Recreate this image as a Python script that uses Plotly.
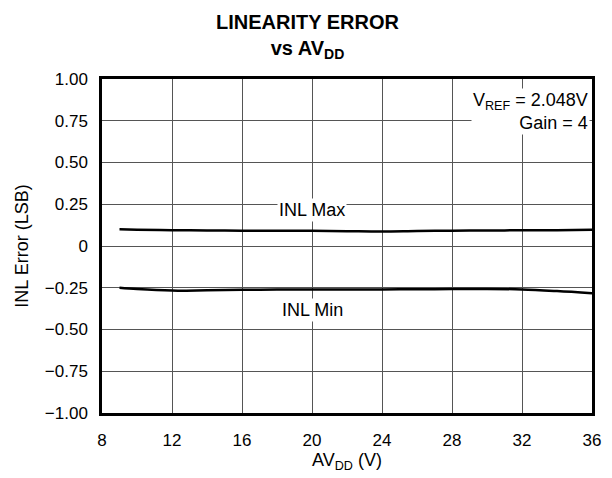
import plotly.graph_objects as go

avdd = [9, 10, 12, 14, 16, 18, 20, 22, 24, 26, 28, 30, 32, 34, 36]
inl_max = [0.100, 0.098, 0.095, 0.093, 0.092, 0.092, 0.091, 0.089, 0.087, 0.090, 0.092, 0.093, 0.094, 0.095, 0.097]
inl_min = [-0.250, -0.258, -0.267, -0.265, -0.262, -0.261, -0.261, -0.261, -0.260, -0.259, -0.258, -0.257, -0.260, -0.270, -0.283]

xticks = [8, 12, 16, 20, 24, 28, 32, 36]
yticks = [1.0, 0.75, 0.5, 0.25, 0, -0.25, -0.5, -0.75, -1.0]
ytext = ["1.00", "0.75", "0.50", "0.25", "0", "\u22120.25", "\u22120.50", "\u22120.75", "\u22121.00"]

font = "Liberation Sans, Arial, sans-serif"

fig = go.Figure()
fig.add_trace(go.Scatter(x=avdd, y=inl_max, mode="lines", line=dict(color="black", width=2.5, shape="spline"), showlegend=False))
fig.add_trace(go.Scatter(x=avdd, y=inl_min, mode="lines", line=dict(color="black", width=2.5, shape="spline"), showlegend=False))

fig.update_layout(
    width=604, height=470,
    margin=dict(l=94, r=20, t=71, b=65),
    paper_bgcolor="white", plot_bgcolor="white",
    font=dict(family=font, size=17, color="black"),
    xaxis=dict(range=[8, 36], tickvals=xticks, showgrid=True, gridcolor="#555", gridwidth=1,
               showline=True, linecolor="black", linewidth=2.5, mirror=True, ticks="outside",
               ticklen=10, tickcolor="rgba(0,0,0,0)",
               zeroline=False, title=dict(text="AV<sub>DD</sub> (V)", standoff=2, font=dict(size=18)),
               tickfont=dict(size=17)),
    yaxis=dict(range=[-1, 1], tickvals=yticks, ticktext=ytext, showgrid=True, gridcolor="#555", gridwidth=1,
               showline=True, linecolor="black", linewidth=2.5, mirror=True, ticks="outside",
               ticklen=8, tickcolor="rgba(0,0,0,0)",
               zeroline=False, title=dict(text="INL Error (LSB)", standoff=12, font=dict(size=18)),
               tickfont=dict(size=17)),
)

fig.add_annotation(xref="paper", yref="paper", x=0.42, y=1.128, yanchor="middle",
                   text="<b>LINEARITY ERROR<br>vs AV<sub>DD</sub></b>",
                   showarrow=False, font=dict(size=20), align="center")
fig.add_annotation(x=20, y=0.216, text="INL Max", showarrow=False, bgcolor="white",
                   font=dict(size=18), borderpad=1)
fig.add_annotation(x=20, y=-0.386, text="INL Min", showarrow=False, bgcolor="white",
                   font=dict(size=18), borderpad=1)
fig.add_annotation(x=35.9, y=0.805, xanchor="right", yanchor="middle",
                   text="V<sub>REF</sub> = 2.048V<br>Gain = 4",
                   showarrow=False, bgcolor="white", align="right", font=dict(size=18), borderpad=1)

fig.write_html("out.html")
